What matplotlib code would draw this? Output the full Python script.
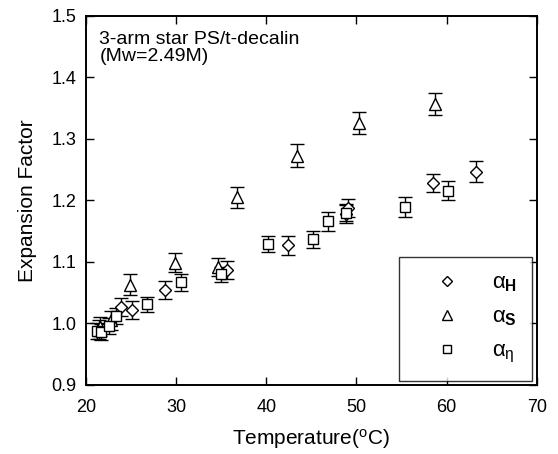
import numpy as np
import matplotlib
matplotlib.use('Agg')
import matplotlib.pyplot as plt

plt.rcParams['font.family'] = ['Liberation Sans', 'DejaVu Sans']
plt.rcParams['mathtext.fontset'] = 'custom'
plt.rcParams['mathtext.rm'] = 'Liberation Sans'
plt.rcParams['mathtext.it'] = 'Liberation Sans'
plt.rcParams['mathtext.bf'] = 'Liberation Sans:bold'

# alpha_H (diamonds)
temp_h = [21.4, 23.9, 25.1, 28.8, 35.6, 42.4, 48.8, 49.1, 58.5, 63.3]
alpha_h = [0.990, 1.027, 1.022, 1.054, 1.087, 1.127, 1.178, 1.188, 1.228, 1.247]
err_h = [0.015, 0.015, 0.015, 0.015, 0.015, 0.015, 0.015, 0.015, 0.015, 0.017]

# alpha_S (triangles)
temp_s = [21.6, 22.8, 24.9, 29.9, 34.7, 36.7, 43.4, 50.3, 58.7]
alpha_s = [0.995, 1.005, 1.063, 1.099, 1.092, 1.205, 1.273, 1.326, 1.357]
err_s = [0.015, 0.015, 0.017, 0.016, 0.015, 0.017, 0.018, 0.018, 0.018]

# alpha_eta (squares)
temp_e = [21.2, 21.7, 22.6, 23.3, 26.8, 30.5, 35.0, 40.2, 45.2, 46.9, 48.8, 55.4, 60.1]
alpha_e = [0.987, 0.986, 0.996, 1.012, 1.031, 1.067, 1.080, 1.130, 1.137, 1.166, 1.180, 1.189, 1.216]
err_e = [0.013, 0.013, 0.013, 0.013, 0.012, 0.014, 0.012, 0.013, 0.014, 0.015, 0.014, 0.016, 0.016]

fig = plt.figure(figsize=(5.58, 4.54), dpi=100)
ax = fig.add_axes([0.154, 0.152, 0.808, 0.813])

# barres d'erreur
ebkw = dict(fmt='none', ecolor='black', elinewidth=1.0, capsize=5, capthick=1.0)
ax.errorbar(temp_h, alpha_h, yerr=err_h, **ebkw)
ax.errorbar(temp_s, alpha_s, yerr=err_s, **ebkw)
ax.errorbar(temp_e, alpha_e, yerr=err_e, **ebkw)

# symboles ouverts
ax.plot(temp_h, alpha_h, 'D', ms=6, mfc='white', mec='black', mew=1.0, ls='none',
        label=r'$\alpha_{\mathbf{H}}$')
ax.plot(temp_s, alpha_s, '^', ms=8, mfc='white', mec='black', mew=1.0, ls='none',
        label=r'$\alpha_{\mathbf{S}}$')
ax.plot(temp_e, alpha_e, 's', ms=7, mfc='white', mec='black', mew=1.0, ls='none',
        label=r'$\alpha_{\eta}$')

ax.set_xlim(20, 70)
ax.set_ylim(0.9, 1.5)
ax.set_xticks(np.arange(20, 71, 10))
ax.set_yticks(np.arange(0.9, 1.51, 0.1))
ax.yaxis.set_major_formatter(matplotlib.ticker.FormatStrFormatter('%.1f'))
ax.tick_params(direction='in', top=True, right=True, length=6, width=1.0, labelsize=13)
ax.tick_params(axis='x', pad=10)
ax.tick_params(axis='y', pad=7)
for s in ax.spines.values():
    s.set_linewidth(1.4)

ax.set_xlabel('Temperature($^{\\rm o}$C)', fontsize=15, labelpad=8)
ax.set_ylabel('Expansion Factor', fontsize=15, labelpad=10)

ax.text(0.03, 0.96, '3-arm star PS/t-decalin\n(Mw=2.49M)', transform=ax.transAxes,
        fontsize=14, va='top', ha='left', linespacing=1.05)

leg = ax.legend(loc='lower right', frameon=True, fancybox=False, edgecolor='black',
                fontsize=16, markerfirst=True, handlelength=3.0, handletextpad=0.5,
                labelspacing=0.55, borderpad=0.7, borderaxespad=0.2, markerscale=0.85)
leg.get_frame().set_linewidth(1.0)

fig.savefig('out.png', dpi=100)
